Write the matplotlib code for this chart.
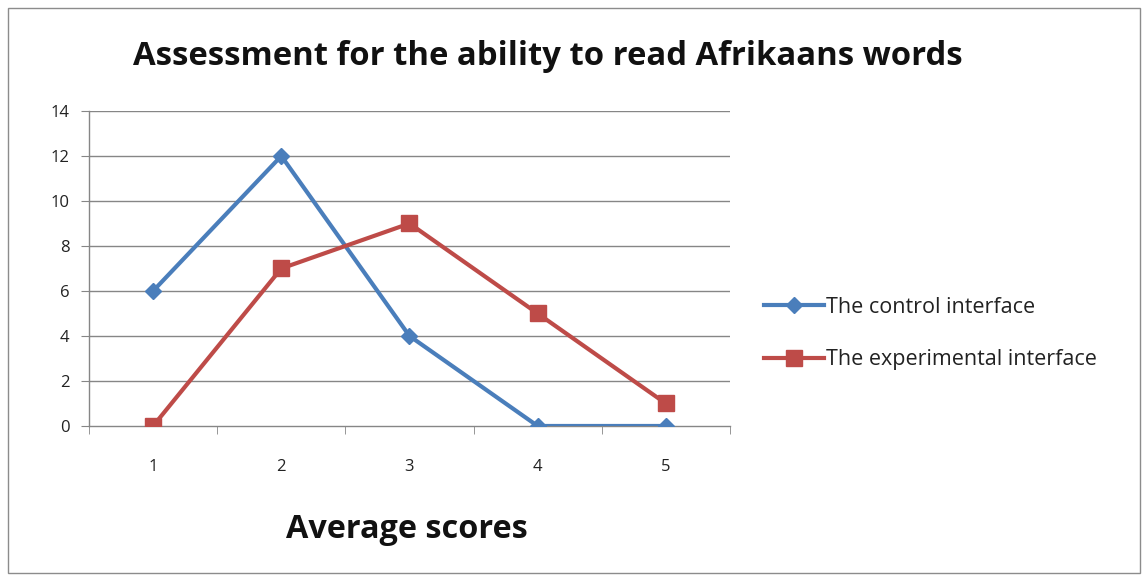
import matplotlib
matplotlib.use("Agg")
import matplotlib.pyplot as plt
from matplotlib.patches import Rectangle

categories = ["1", "2", "3", "4", "5"]
control = [6, 12, 4, 0, 0]
experimental = [0, 7, 9, 5, 1]
yticks = [0, 2, 4, 6, 8, 10, 12, 14]

plt.rcParams['font.family'] = ['Open Sans', 'DejaVu Sans']

fig = plt.figure(figsize=(11.47, 5.81), dpi=100)
fig.patches.append(Rectangle((0.007, 0.014), 0.987, 0.973, transform=fig.transFigure,
                             fill=False, edgecolor='#8c8c8c', linewidth=1.0))
ax = fig.add_axes([0.0776, 0.2668, 0.5588, 0.5422])

x = list(range(len(categories)))
ax.plot(x, control, color='#4A7EBB', linewidth=3.0, marker='D', markersize=8,
        label='The control interface', zorder=3)
ax.plot(x, experimental, color='#BE4B48', linewidth=3.0, marker='s', markersize=11,
        label='The experimental interface', zorder=3)

ax.set_xlim(-0.5, len(categories) - 0.5)
ax.set_ylim(0, 14)
ax.set_yticks(yticks)
ax.set_yticklabels([str(v) for v in yticks], fontsize=12, color='#222222')
ax.set_xticks(x)
ax.set_xticklabels(categories, fontsize=12, color='#222222')
ax.set_xticks([i + 0.5 for i in range(-1, len(categories))], minor=True)
ax.tick_params(axis='x', which='major', length=0, pad=24)
ax.tick_params(axis='x', which='minor', length=6, color='#868686', direction='out')
ax.tick_params(axis='y', length=6, color='#868686', direction='out', pad=8)

for v in yticks[1:]:
    ax.axhline(v, color='#868686', linewidth=1.0, zorder=1)
for s in ['top', 'right']:
    ax.spines[s].set_visible(False)
for s in ['left', 'bottom']:
    ax.spines[s].set_color('#868686')
    ax.spines[s].set_linewidth(1.0)

fig.text(0.478, 0.903, 'Assessment for the ability to read Afrikaans words',
         ha='center', va='center', fontsize=23.7, fontweight='bold', color='#111111')
fig.text(0.355, 0.088, 'Average scores', ha='center', va='center',
         fontsize=23.3, fontweight='bold', color='#111111')

fig.legend(loc='center left', bbox_to_anchor=(0.649, 0.426), frameon=False,
           fontsize=15.5, handlelength=2.8, handletextpad=0.1, labelspacing=1.45,
           labelcolor='#222222')

fig.savefig('out.png', dpi=100)
